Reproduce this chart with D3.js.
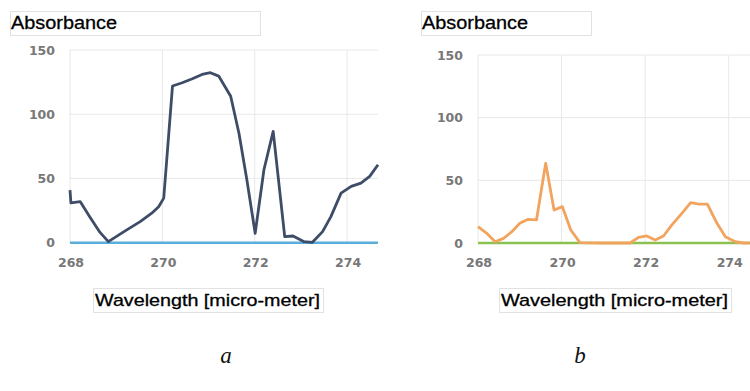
<!DOCTYPE html>
<html>
<head>
<meta charset="utf-8">
<script src="https://cdn.jsdelivr.net/npm/d3@7"></script>
<style>
  body { margin: 0; background: #fff; }
  svg { display: block; }
</style>
</head>
<body>
<div id="chart"></div>
<script>
// panel a: wavelength / absorbance
var waveA = [268.0, 268.02, 268.22, 268.43, 268.65, 268.83, 269.0, 269.23, 269.52, 269.77, 269.92, 270.03,
  270.22, 270.43, 270.65, 270.86, 271.04, 271.22, 271.48, 271.66, 271.83, 272.01, 272.2, 272.4,
  272.65, 272.83, 273.07, 273.25, 273.47, 273.65, 273.87, 274.09, 274.3, 274.49, 274.67];
var absA = [41, 31, 32, 20, 8, 0.8, 4.7, 10, 16.4, 23, 28, 34.7,
  122, 124.5, 127.6, 131, 132.3, 129.7, 114, 85, 49, 7.3, 56.8, 86.7,
  4.7, 5.2, 0.8, 0.3, 8.6, 20.3, 38.6, 43.8, 46.4, 51.6, 60.7];

// panel b
var waveB = [268.0, 268.21, 268.41, 268.61, 268.81, 269.0, 269.2, 269.4, 269.62, 269.82, 270.02, 270.22,
  270.44, 271.0, 271.64, 271.84, 272.04, 272.24, 272.44, 272.64, 272.88, 273.09, 273.29, 273.49,
  273.72, 273.92, 274.16, 274.36, 274.5];
var absB = [13, 7.7, 1, 3.7, 9, 15.7, 18.9, 18.4, 63.6, 26.3, 29, 10.4,
  0.3, 0, 0, 4.5, 5.6, 2.4, 5.6, 14.4, 23.7, 32.2, 31, 31,
  15.7, 5, 1, 0, 0];

var xTicks = [268, 270, 272, 274];
var yTicks = [0, 50, 100, 150];
var titleText = "Absorbance";
var xLabelText = "Wavelength [micro-meter]";

var svg = d3.select("#chart").append("svg")
  .attr("width", 750)
  .attr("height", 391);

var panels = [
  { wave: waveA, abs: absA, line: "#3e4c68", base: "#5aaede", letter: "a",
    left: 70, right: 378, xMax: 274.67, top: 50, bottom: 242.7,
    titleBox: [10, 11, 250, 24], labelBox: [93, 288, 230, 24], letterX: 226 },
  { wave: waveB, abs: absB, line: "#f2a35e", base: "#8cc152", letter: "b",
    left: 478, right: 750, xMax: 274.51, top: 55, bottom: 243,
    titleBox: [421, 11, 170, 24], labelBox: [499, 288, 232, 24], letterX: 580 }
];

panels.forEach(function(p) {
  var x = d3.scaleLinear().domain([268, p.xMax]).range([p.left, p.right]);
  var y = d3.scaleLinear().domain([0, 150]).range([p.bottom, p.top]);
  var g = svg.append("g");

  // grid
  g.selectAll(".hgrid").data(yTicks.filter(function(d) { return d > 0; }))
    .enter().append("line")
    .attr("x1", p.left).attr("x2", p.right)
    .attr("y1", function(d) { return y(d); })
    .attr("y2", function(d) { return y(d); })
    .attr("stroke", "#e8e8e8");
  g.selectAll(".vgrid").data(xTicks)
    .enter().append("line")
    .attr("x1", function(d) { return x(d); })
    .attr("x2", function(d) { return x(d); })
    .attr("y1", p.top).attr("y2", p.bottom)
    .attr("stroke", "#e8e8e8");

  // baseline series at zero
  g.append("line")
    .attr("x1", p.left).attr("x2", p.right)
    .attr("y1", y(0)).attr("y2", y(0))
    .attr("stroke", p.base)
    .attr("stroke-width", 2.5);

  // tick labels
  g.selectAll(".ylab").data(yTicks)
    .enter().append("text")
    .attr("x", p.left - 15)
    .attr("y", function(d) { return y(d) + 4.5; })
    .attr("text-anchor", "end")
    .style("font-family", "DejaVu Sans, Verdana, sans-serif")
    .style("font-size", "12.5px")
    .style("font-weight", "bold")
    .style("fill", "#777")
    .text(function(d) { return d; });
  g.selectAll(".xlab").data(xTicks)
    .enter().append("text")
    .attr("x", function(d) { return x(d) + 1; })
    .attr("y", p.bottom + 24)
    .attr("text-anchor", "middle")
    .style("font-family", "DejaVu Sans, Verdana, sans-serif")
    .style("font-size", "12.5px")
    .style("font-weight", "bold")
    .style("fill", "#777")
    .text(function(d) { return d; });

  // data line
  var line = d3.line()
    .x(function(d, i) { return x(p.wave[i]); })
    .y(function(d) { return y(d); });
  g.append("path")
    .datum(p.abs)
    .attr("d", line)
    .attr("fill", "none")
    .attr("stroke", p.line)
    .attr("stroke-width", 2.8)
    .attr("stroke-linejoin", "round");

  // title box
  var tb = p.titleBox;
  g.append("rect")
    .attr("x", tb[0] + 0.5).attr("y", tb[1] + 0.5)
    .attr("width", tb[2]).attr("height", tb[3])
    .attr("fill", "#fff").attr("stroke", "#e2e2e2");
  g.append("text")
    .attr("x", tb[0] + 1).attr("y", tb[1] + 18)
    .attr("textLength", 106)
    .attr("lengthAdjust", "spacingAndGlyphs")
    .style("font-family", "Liberation Sans, Arial, sans-serif")
    .style("font-size", "18px")
    .style("fill", "#000")
    .style("stroke", "#000")
    .style("stroke-width", 0.3)
    .text(titleText);

  // x axis label box
  var lb = p.labelBox;
  g.append("rect")
    .attr("x", lb[0] + 0.5).attr("y", lb[1] + 0.5)
    .attr("width", lb[2]).attr("height", lb[3])
    .attr("fill", "#fff").attr("stroke", "#e2e2e2");
  g.append("text")
    .attr("x", lb[0] + 2).attr("y", lb[1] + 18)
    .attr("textLength", lb[2] - 5)
    .attr("lengthAdjust", "spacingAndGlyphs")
    .style("font-family", "Liberation Sans, Arial, sans-serif")
    .style("font-size", "17px")
    .style("fill", "#000")
    .style("stroke", "#000")
    .style("stroke-width", 0.3)
    .text(xLabelText);

  // panel letter
  g.append("text")
    .attr("x", p.letterX).attr("y", 363)
    .attr("text-anchor", "middle")
    .style("font-family", "Liberation Serif, Times New Roman, serif")
    .style("font-style", "italic")
    .style("font-size", "23px")
    .style("fill", "#111")
    .text(p.letter);
});
</script>
</body>
</html>
